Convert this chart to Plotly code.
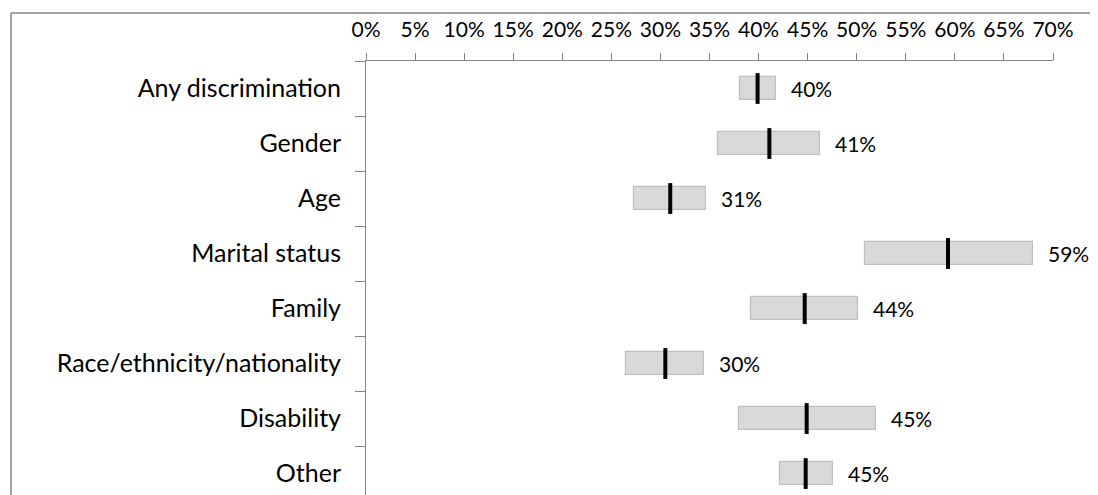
import plotly.graph_objects as go

categories = ["Any discrimination", "Gender", "Age", "Marital status", "Family",
              "Race/ethnicity/nationality", "Disability", "Other"]
low = [38.1, 35.9, 27.3, 50.8, 39.2, 26.5, 38.0, 42.2]
high = [41.8, 46.3, 34.6, 68.0, 50.1, 34.4, 52.0, 47.6]
median = [39.9, 41.1, 31.0, 59.3, 44.7, 30.5, 44.9, 44.8]
labels = ["40%", "41%", "31%", "59%", "44%", "30%", "45%", "45%"]
x_ticks = list(range(0, 75, 5))
x_ticktext = [f"{v}%" for v in x_ticks]

FONT = "Lato"
AXIS = "#868686"

fig = go.Figure()

fig.add_trace(go.Bar(
    y=categories,
    x=[h - l for l, h in zip(low, high)],
    base=low,
    orientation="h",
    width=0.42,
    marker=dict(color="#d9d9d9", line=dict(color="#bfbfbf", width=1.2)),
    hoverinfo="skip",
    showlegend=False,
))

fig.add_trace(go.Scatter(
    y=categories,
    x=median,
    mode="markers",
    marker=dict(symbol="line-ns", size=22, line=dict(color="black", width=4)),
    showlegend=False,
))

annotations = [
    dict(x=h, y=c, text=t, xanchor="left", yanchor="middle", xshift=13,
         showarrow=False, font=dict(family=FONT, size=21, color="black"))
    for c, h, t in zip(categories, high, labels)
]

# the page body adds an 8px offset, so the figure is 8px smaller on each side
fig.update_layout(
    width=1090,
    height=487,
    margin=dict(l=358, r=45, t=53, b=0),
    paper_bgcolor="white",
    plot_bgcolor="white",
    bargap=0,
    font=dict(family=FONT, size=21, color="black"),
    annotations=annotations,
    xaxis=dict(
        side="top",
        range=[0, 70],
        tickvals=x_ticks,
        ticktext=x_ticktext,
        tickfont=dict(size=21),
        showgrid=False,
        zeroline=False,
        showline=True,
        linecolor=AXIS,
        linewidth=1,
        ticks="outside",
        ticklen=7,
        tickcolor=AXIS,
        ticklabelstandoff=8,
    ),
    yaxis=dict(
        type="category",
        categoryorder="array",
        categoryarray=categories,
        range=[7.39, -0.5],
        tickfont=dict(size=25),
        showgrid=False,
        zeroline=False,
        showline=True,
        linecolor=AXIS,
        linewidth=1,
        ticks="outside",
        tickson="boundaries",
        ticklen=10,
        tickcolor=AXIS,
        ticklabelstandoff=19,
    ),
    shapes=[
        dict(type="line", xref="paper", yref="paper",
             x0=-0.5167, x1=-0.5167, y0=-0.05, y1=1.1106,
             line=dict(color="#a0a0a0", width=2)),
        dict(type="line", xref="paper", yref="paper",
             x0=-0.5167, x1=1.1, y0=1.1106, y1=1.1106,
             line=dict(color="#a0a0a0", width=2)),
    ],
)

fig.write_html("out.html")
